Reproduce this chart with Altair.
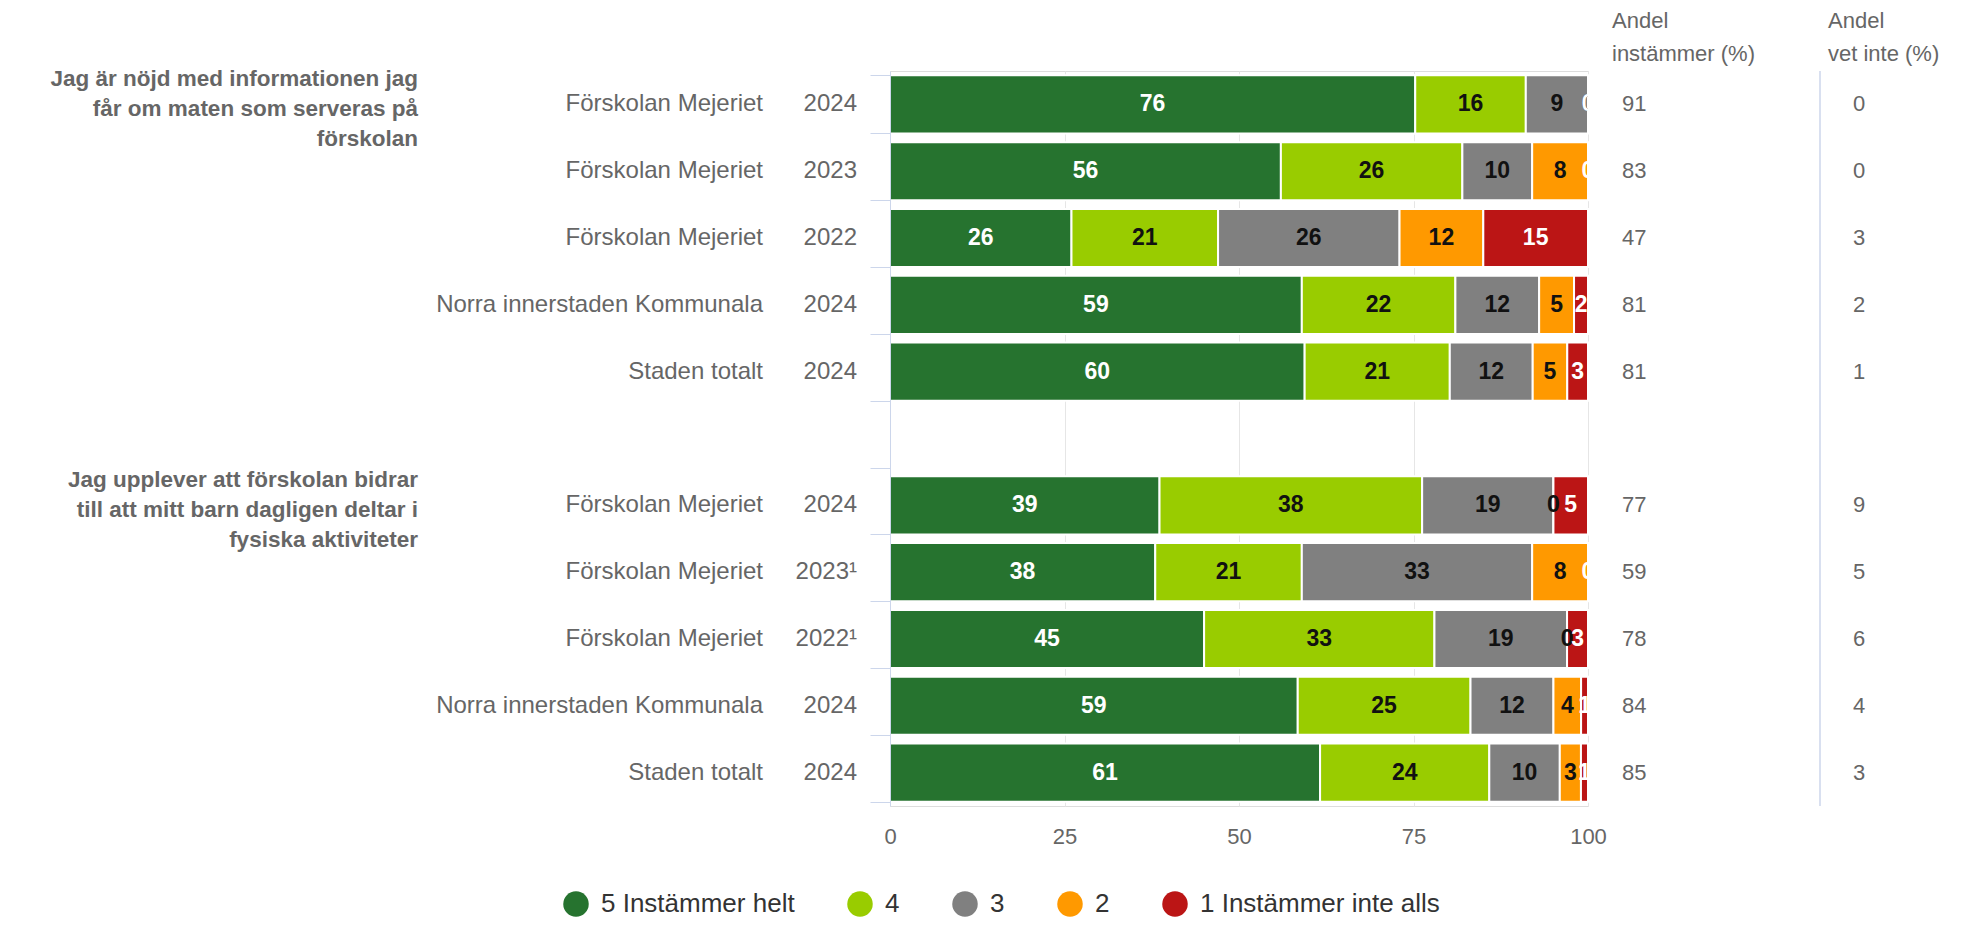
import altair as alt
import pandas as pd

FONT = "Liberation Sans"

group_titles = [
    "Jag är nöjd med informationen jag\nfår om maten som serveras på\nförskolan",
    "Jag upplever att förskolan bidrar\ntill att mitt barn dagligen deltar i\nfysiska aktiviteter",
]
group_first_rows = ["0", "6"]

units = ["Förskolan Mejeriet", "Förskolan Mejeriet", "Förskolan Mejeriet",
         "Norra innerstaden Kommunala", "Staden totalt",
         "Förskolan Mejeriet", "Förskolan Mejeriet", "Förskolan Mejeriet",
         "Norra innerstaden Kommunala", "Staden totalt"]
years = ["2024", "2023", "2022", "2024", "2024",
         "2024", "2023¹", "2022¹", "2024", "2024"]
row_ids = ["0", "1", "2", "3", "4", "6", "7", "8", "9", "10"]
all_rows = [str(i) for i in range(11)]  # "5" is the empty gap row

categories = ["5 Instämmer helt", "4", "3", "2", "1 Instämmer inte alls"]
colors = ["#26732F", "#99CC00", "#808080", "#FF9900", "#BB1515"]
label_colors = ["#FFFFFF", "#111111", "#111111", "#111111", "#FFFFFF"]

v5 = [76, 56, 26, 59, 60, 39, 38, 45, 59, 61]
v4 = [16, 26, 21, 22, 21, 38, 21, 33, 25, 24]
v3 = [9, 10, 26, 12, 12, 19, 33, 19, 12, 10]
v2 = [0, 8, 12, 5, 5, 0, 8, 0, 4, 3]
v1 = [0, 0, 15, 2, 3, 5, 0, 3, 1, 1]
series = [v5, v4, v3, v2, v1]

andel_instammer = [91, 83, 47, 81, 81, 77, 59, 78, 84, 85]
andel_vet_inte = [0, 0, 3, 2, 1, 9, 5, 6, 4, 3]

records = []
for i, r in enumerate(row_ids):
    for k, cat in enumerate(categories):
        records.append({"row": r, "cat": cat, "order": k,
                        "value": series[k][i], "tc": label_colors[k]})
df = pd.DataFrame(records)

rows_df = pd.DataFrame({"row": row_ids, "unit": units, "year": years,
                        "andel": andel_instammer, "vet": andel_vet_inte})
groups_df = pd.DataFrame({"row": group_first_rows, "title": group_titles})

W, H = 698, 735

yscale = alt.Scale(domain=all_rows, paddingInner=0.13, paddingOuter=0.065)
y_axis = alt.Axis(labels=False, ticks=True, tickBand="extent", tickSize=20,
                  tickColor="#ccd6eb", domainColor="#ccd6eb", grid=False,
                  title=None, zindex=1, tickWidth=1, domainWidth=1)
x_axis = alt.Axis(values=[0, 25, 50, 75, 100], grid=True, gridColor="#e6e6e6",
                  gridWidth=1, domain=False, ticks=False, labelFontSize=22,
                  labelColor="#666666", labelPadding=20, title=None,
                  labelFlush=False, labelFont=FONT)

base = (alt.Chart(df)
        .transform_joinaggregate(total="sum(value)", groupby=["row"])
        .transform_calculate(pct="datum.value / datum.total * 100")
        .transform_stack(stack="pct", groupby=["row"], as_=["x0", "x1"],
                         sort=[alt.SortField("order", order="ascending")])
        .transform_calculate(mid="(datum.x0 + datum.x1) / 2"))

bars = base.mark_bar(stroke="white", strokeWidth=2).encode(
    x=alt.X("x0:Q", scale=alt.Scale(domain=[0, 100], nice=False), axis=x_axis),
    x2="x1:Q",
    y=alt.Y("row:N", scale=yscale, axis=y_axis),
    color=alt.Color("cat:N", scale=alt.Scale(domain=categories, range=colors),
                    legend=alt.Legend(orient="none", legendX=-327, legendY=820,
                                      direction="horizontal", columns=5, title=None,
                                      symbolType="circle", symbolSize=650,
                                      symbolStrokeWidth=0, symbolOpacity=1,
                                      labelFontSize=26, labelColor="#333333",
                                      labelFont=FONT, labelLimit=500,
                                      columnPadding=52, labelOffset=12)),
)

bar_labels = base.mark_text(fontWeight="bold", fontSize=23, font=FONT,
                            clip=True, baseline="middle").encode(
    x=alt.X("mid:Q"),
    y=alt.Y("row:N"),
    text=alt.Text("value:Q"),
    color=alt.Color("tc:N", scale=None),
)

unit_labels = alt.Chart(rows_df).mark_text(
    align="right", baseline="middle", fontSize=24, font=FONT, color="#666666"
).encode(y=alt.Y("row:N"), x=alt.value(-127), text="unit:N")

year_labels = alt.Chart(rows_df).mark_text(
    align="right", baseline="middle", fontSize=24, font=FONT, color="#666666"
).encode(y=alt.Y("row:N"), x=alt.value(-33), text="year:N")

andel_labels = alt.Chart(rows_df).mark_text(
    align="left", baseline="middle", fontSize=22, font=FONT, color="#666666"
).encode(y=alt.Y("row:N"), x=alt.value(732), text="andel:Q")

vet_labels = alt.Chart(rows_df).mark_text(
    align="left", baseline="middle", fontSize=22, font=FONT, color="#666666"
).encode(y=alt.Y("row:N"), x=alt.value(963), text="vet:Q")

title_labels = alt.Chart(groups_df).mark_text(
    align="right", baseline="middle", fontSize=22.5, font=FONT, dy=-25,
    fontWeight="bold", color="#666666", lineBreak="\n", lineHeight=30
).encode(y=alt.Y("row:N"), x=alt.value(-472), text="title:N")

header1 = alt.Chart(pd.DataFrame({"t": ["Andel\ninstämmer (%)"]})).mark_text(
    align="left", baseline="middle", fontSize=22, font=FONT, color="#666666",
    lineBreak="\n", lineHeight=33
).encode(x=alt.value(722), y=alt.value(-50), text="t:N")

header2 = alt.Chart(pd.DataFrame({"t": ["Andel\nvet inte (%)"]})).mark_text(
    align="left", baseline="middle", fontSize=22, font=FONT, color="#666666",
    lineBreak="\n", lineHeight=33
).encode(x=alt.value(938), y=alt.value(-50), text="t:N")

sep_rule = alt.Chart(pd.DataFrame({"a": [0]})).mark_rule(
    color="#ccd6eb", strokeWidth=1.5
).encode(x=alt.value(930), y=alt.value(0), y2=alt.value(H))

chart = alt.layer(
    bars, bar_labels, unit_labels, year_labels, andel_labels, vet_labels,
    title_labels, header1, header2, sep_rule
).properties(
    width=W, height=H,
    autosize=alt.AutoSizeParams(type="none"),
    padding={"left": 882, "top": 63, "right": 374, "bottom": 111},
).configure_view(stroke=None).configure(font=FONT)

chart.save("out.html", embed_options={"renderer": "svg", "actions": False})
